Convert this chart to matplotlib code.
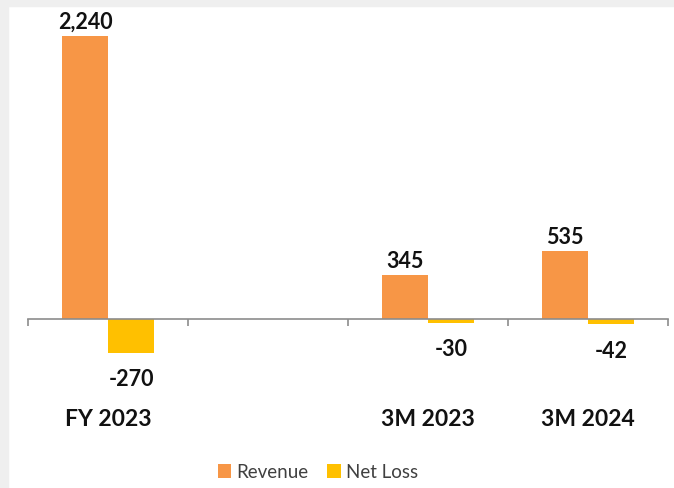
import matplotlib
matplotlib.use("Agg")
import matplotlib.pyplot as plt
from matplotlib.patches import Rectangle
import numpy as np

categories = ["FY 2023", "", "3M 2023", "3M 2024"]
revenue = [2240, None, 345, 535]
net_loss = [-270, None, -30, -42]
rev_labels = ["2,240", "", "345", "535"]
loss_labels = ["-270", "", "-30", "-42"]

plt.rcParams['font.family'] = ['Lato', 'DejaVu Sans']

fig = plt.figure(figsize=(6.74, 4.89), dpi=100)
fig.patch.set_facecolor('white')
# light gray strips at the top and left edges
fig.patches.append(Rectangle((0, 1 - 7 / 489), 1, 7 / 489, transform=fig.transFigure,
                             color='#EFEFEF', zorder=0))
fig.patches.append(Rectangle((0, 0), 8 / 674, 1, transform=fig.transFigure,
                             color='#EFEFEF', zorder=0))

ax = fig.add_axes([28 / 674, (489 - 380) / 489, 640 / 674, 360 / 489])
ax.set_facecolor('none')

x = np.arange(len(categories))
w = 0.2875
rev = np.array([np.nan if v is None else v for v in revenue], dtype=float)
loss = np.array([np.nan if v is None else v for v in net_loss], dtype=float)

ax.bar(x - w / 2, rev, w, color='#F79646', label='Revenue')
ax.bar(x + w / 2, loss, w, color='#FFC000', label='Net Loss')

for i in range(len(categories)):
    if not np.isnan(rev[i]):
        ax.annotate(rev_labels[i], (x[i] - w / 2, rev[i]), xytext=(0, 3),
                    textcoords='offset points', ha='center', va='bottom',
                    fontsize=15.5, fontweight='bold', color='#111111')
    if not np.isnan(loss[i]):
        ax.annotate(loss_labels[i], (x[i] + w / 2, loss[i]), xytext=(0, -11),
                    textcoords='offset points', ha='center', va='top',
                    fontsize=15.5, fontweight='bold', color='#111111')

ax.set_xlim(-0.5, len(categories) - 0.5)
ax.set_ylim(-475, 2375)

for s in ['top', 'right', 'left']:
    ax.spines[s].set_visible(False)
ax.spines['bottom'].set_position(('data', 0))
ax.spines['bottom'].set_color('#8C8C8C')
ax.spines['bottom'].set_linewidth(1.2)
ax.set_yticks([])

ax.set_xticks(x)
ax.set_xticklabels(categories, fontsize=16.5, fontweight='bold', color='#111111')
ax.tick_params(axis='x', which='major', length=0, pad=64)
ax.set_xticks(np.arange(-0.5, len(categories)), minor=True)
ax.tick_params(axis='x', which='minor', length=5, width=1.2, color='#8C8C8C')

fig.legend(loc='center', bbox_to_anchor=(318 / 674, 1 - 473 / 489), ncol=2,
           frameon=False, fontsize=13.5, handlelength=0.7, handleheight=0.7,
           handletextpad=0.3, columnspacing=1.0, labelcolor='#404040')

fig.savefig('out.png', dpi=100)
